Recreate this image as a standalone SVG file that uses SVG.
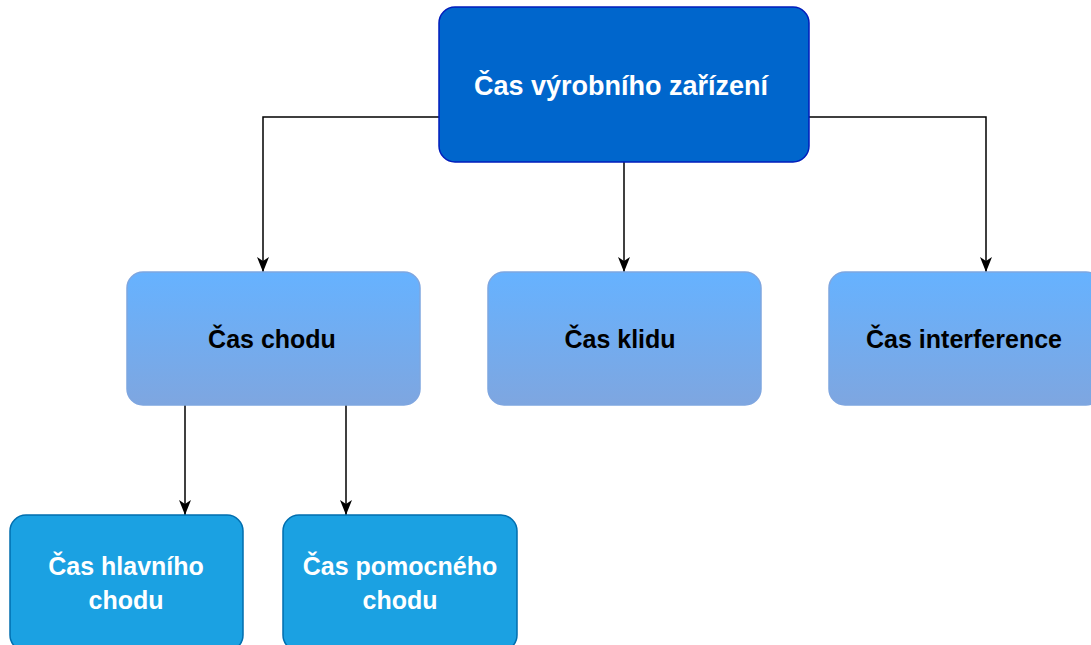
<svg xmlns="http://www.w3.org/2000/svg" width="1091" height="645" viewBox="0 0 1091 645">
<defs>
<linearGradient id="g" x1="0" y1="0" x2="0" y2="1">
<stop offset="0" stop-color="#66B2FF"/>
<stop offset="1" stop-color="#7EA6E0"/>
</linearGradient>
<marker id="arr" markerWidth="15" markerHeight="12" refX="15" refY="6" orient="auto" markerUnits="userSpaceOnUse" viewBox="0 0 15 12">
<path d="M0,0 L15,6 L0,12 L4,6 Z" fill="#000" stroke="none"/>
</marker>
</defs>
<style>
text{font-family:"Liberation Sans",Arial,sans-serif;font-weight:bold;text-anchor:middle;dominant-baseline:central}
.top rect{fill:#0066CC;stroke:#001DBC;stroke-width:1.5}
.top text{fill:#fff;font-size:27px}
.mid rect{fill:url(#g);stroke:#7EA6E0;stroke-width:1.5}
.mid text{fill:#000;font-size:25px}
.bot rect{fill:#1BA1E2;stroke:#006EAF;stroke-width:1.5}
.bot text{fill:#fff;font-size:25px}
.conn path{fill:none;stroke:#000;stroke-width:1.5;marker-end:url(#arr)}
</style>
<g id="connectors" class="conn">
<path d="M439,117 H263 V272"/>
<path d="M624,162 V272"/>
<path d="M809,117 H986 V272"/>
<path d="M185,405 V515"/>
<path d="M346,405 V515"/>
</g>
<g id="n-top" class="top">
<rect x="439" y="7" width="370" height="155" rx="16"/>
<text x="621" y="86">Čas výrobního zařízení</text>
</g>
<g id="n-chodu" class="mid">
<rect x="127" y="272" width="293" height="133" rx="16"/>
<text x="272" y="339">Čas chodu</text>
</g>
<g id="n-klidu" class="mid">
<rect x="488" y="272" width="273" height="133" rx="16"/>
<text x="620" y="339">Čas klidu</text>
</g>
<g id="n-interference" class="mid">
<rect x="829" y="272" width="273" height="133" rx="16"/>
<text x="964" y="339">Čas interference</text>
</g>
<g id="n-hlavni" class="bot">
<rect x="10" y="515" width="233" height="136" rx="16"/>
<text x="126" y="566">Čas hlavního</text>
<text x="126" y="600">chodu</text>
</g>
<g id="n-pomocny" class="bot">
<rect x="283" y="515" width="234" height="136" rx="16"/>
<text x="400" y="566">Čas pomocného</text>
<text x="400" y="600">chodu</text>
</g>
</svg>
